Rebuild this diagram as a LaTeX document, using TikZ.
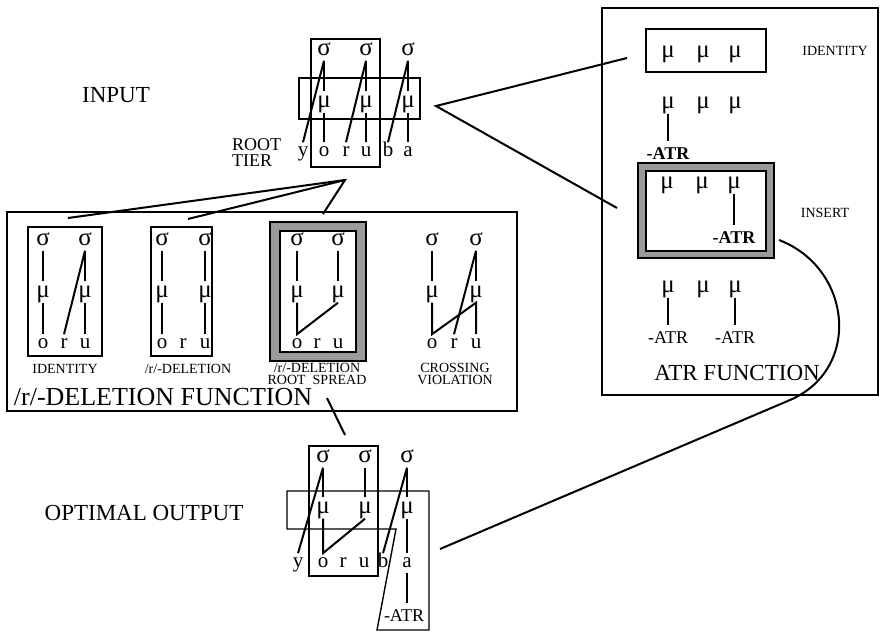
\documentclass[tikz,border=0pt]{standalone}
\usepackage{fontspec}
\setmainfont{Liberation Serif}
\usepackage{tikz}
\definecolor{framegray}{HTML}{9A9A9A}

\begin{document}
\begin{tikzpicture}[x=0.5pt,y=-0.5pt,
  tier/.style={inner sep=1pt,outer sep=1.5pt,text height=5.7pt,text depth=0pt,font=\fontsize{12.5}{14}\selectfont},
  seg/.style={inner sep=1pt,outer sep=1.5pt,text height=4.8pt,text depth=0pt,font=\fontsize{10.5}{12}\selectfont},
  atr/.style={inner sep=1pt,outer sep=2pt,text height=6pt,text depth=0pt,font=\fontsize{9}{10}\selectfont},
  lnk/.style={line width=1pt},
  box/.style={line width=0.7pt},
  tag/.style={font=\fontsize{7}{6.2}\selectfont,align=center},
  big/.style={font=\fontsize{11.5}{13}\selectfont}]
\useasboundingbox (0,0) rectangle (883,634);

% input
\node[big] (input) at (116,95) {INPUT};
\node[align=left,anchor=west,font=\fontsize{9}{8}\selectfont] (rootTier) at (225,153) {ROOT\\TIER};
\draw[box] (311,39) rectangle (380,167);
\draw[box] (299,78) rectangle (420,119);
\foreach \n/\x in {1/324,2/366,3/408}{
  \node[tier] (iS\n) at (\x,50) {σ};
  \node[tier] (iM\n) at (\x,102) {μ};
  \draw[lnk] (iS\n) -- (iM\n);
}
\foreach \n/\x in {y/303,o/324,r/346,u/366,b/388,a/408}
  \node[seg] (i\n) at (\x,152) {\n};
\draw[lnk] (iM1) -- (io);
\draw[lnk] (iM2) -- (iu);
\draw[lnk] (iM3) -- (ia);
\draw[lnk] (iS1.south) -- (iy.north);
\draw[lnk] (iS2.south) -- (ir.north);
\draw[lnk] (iS3.south) -- (ib.north);

% /r/-deletion function
\draw[box] (7,212) rectangle (517,411);
\draw[box] (28,227) rectangle (102,356);
\draw[box] (151,227) rectangle (212,356);
\draw[box,fill=framegray] (270,222) rectangle (366,361);
\draw[box,fill=white] (280,231) rectangle (356,352);
\foreach \d/\xa/\xr/\xb in {id/43/64/85,del/162/183/205,rs/297/317/338,cr/432/454/476}{
  \node[tier] (\d S1) at (\xa,240) {σ};
  \node[tier] (\d S2) at (\xb,240) {σ};
  \node[tier] (\d M1) at (\xa,292) {μ};
  \node[tier] (\d M2) at (\xb,292) {μ};
  \node[seg] (\d o) at (\xa,344) {o};
  \node[seg] (\d r) at (\xr,344) {r};
  \node[seg] (\d u) at (\xb,344) {u};
  \draw[lnk] (\d S1) -- (\d M1);
  \draw[lnk] (\d S2) -- (\d M2);
}
\draw[lnk] (idM1) -- (ido);
\draw[lnk] (idM2) -- (idu);
\draw[lnk] (idS2.south) -- (idr.north);
\draw[lnk] (delM1) -- (delo);
\draw[lnk] (delM2) -- (delu);
\draw[lnk] (rsM1.south) -- (rso.north) -- (rsM2.south);
\draw[lnk] (crM1.south) -- (cro.north) -- (crM2.south) -- (cru.north);
\draw[lnk] (crS2.south) -- (crr.north);
\node[tag] (idTag) at (65,369) {IDENTITY};
\node[tag] (delTag) at (188,369) {/r/-DELETION};
\node[tag] (rsTag) at (317,374) {/r/-DELETION\\ROOT\ \ SPREAD};
\node[tag] (crTag) at (455,374) {CROSSING\\VIOLATION};
\node[font=\fontsize{13}{15}\selectfont] (delFn) at (163,397) {/r/-DELETION FUNCTION};

\coordinate (apex) at (345,180);
\coordinate (idTop) at (68,218);
\coordinate (delTop) at (188,219);
\coordinate (rsTop) at (323,214);
\draw[lnk] (idTop) -- (apex) -- (rsTop);
\draw[lnk] (delTop) -- (apex);

% ATR function
\draw[box] (602,8) rectangle (878,395);
\draw[box] (646,29) rectangle (766,72);
\draw[box,fill=framegray] (638,163) rectangle (774,258);
\draw[box,fill=white] (646,171) rectangle (766,251);
\foreach \n/\x in {1/668,2/703,3/735}{
  \node[tier] (aI\n) at (\x,52) {μ};
  \node[tier] (aD\n) at (\x,103) {μ};
  \node[tier] (aN\n) at (\x-1,183) {μ};
  \node[tier] (aB\n) at (\x,287) {μ};
}
\node[atr,font=\bfseries\fontsize{9}{10}\selectfont] (aDatr) at (668,153) {-ATR};
\node[atr,font=\bfseries\fontsize{9}{10}\selectfont] (aNatr) at (734,237) {-ATR};
\node[atr] (aBatrA) at (668,337) {-ATR};
\node[atr] (aBatrB) at (735,337) {-ATR};
\draw[lnk] (aD1) -- (aDatr);
\draw[lnk] (aN3) -- (aNatr);
\draw[lnk] (aB1) -- (aBatrA);
\draw[lnk] (aB3) -- (aBatrB);
\node[tag] (aITag) at (835,51) {IDENTITY};
\node[tag] (aNTag) at (825,213) {INSERT};
\node[big] (atrFn) at (737,373) {ATR FUNCTION};

\coordinate (iTip) at (436,106);
\coordinate (aIEnd) at (627,58);
\coordinate (aNEnd) at (617,208);
\draw[lnk] (aIEnd) -- (iTip) -- (aNEnd);

% optimal output
\node[big] (output) at (144,513) {OPTIMAL OUTPUT};
\draw[box] (309,446) rectangle (378,576);
\draw[box] (287,491) -- (429,491) -- (429,630) -- (377,630) -- (396,529) -- (287,529) -- cycle;
\foreach \n/\x in {1/323,2/365,3/407}{
  \node[tier] (oS\n) at (\x,457) {σ};
  \node[tier] (oM\n) at (\x,508) {μ};
  \draw[lnk] (oS\n) -- (oM\n);
}
\foreach \n/\x in {y/298,o/323,r/343,u/364,b/383,a/407}
  \node[seg] (o\n) at (\x,563) {\n};
\node[atr] (oATR) at (404,615) {-ATR};
\draw[lnk] (oS1.south) -- (oy.north);
\draw[lnk] (oS3.south) -- (ob.north);
\draw[lnk] (oM1.south) -- (oo.north) -- (oM2.south);
\draw[lnk] (oM3) -- (oa);
\draw[lnk] (oa.south) -- (oa.south |- oATR.north);

\coordinate (fnFoot) at (327,398);
\coordinate (outHead) at (345,435);
\draw[lnk] (fnFoot) -- (outHead);
\coordinate (insOut) at (779,240);
\coordinate (outIn) at (440,549);
\draw[lnk] (insOut) .. controls (852,268) and (862,369) .. (790,400) -- (outIn);
\end{tikzpicture}
\end{document}
